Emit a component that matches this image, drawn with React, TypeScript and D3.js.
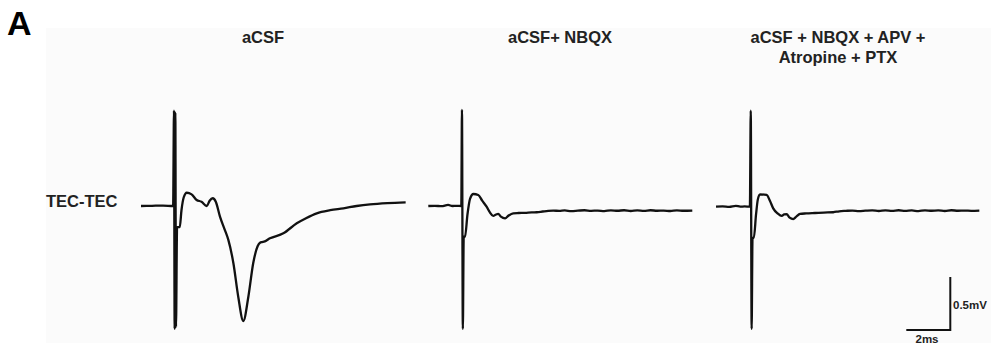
import { useEffect, useRef } from "react";
import * as d3 from "d3";

// time in ms from trace start, voltage in mV relative to baseline
const titles = ["aCSF", "aCSF+ NBQX", "aCSF + NBQX + APV +|Atropine + PTX"];
const rowLabel = "TEC-TEC";

const traceACSF: [number, number][] = [
  [0, 0], [0.5, 0.002], [1.0, 0.004], [1.46, 0],
  [1.5, 0.9], [1.53, -1.16], [1.56, 0.88], [1.59, -1.14], [1.64, -0.2],
  [1.76, -0.2], [1.84, -0.04], [1.94, 0.08], [2.08, 0.125], [2.3, 0.11],
  [2.53, 0.057], [2.75, 0.04], [2.99, 0.0], [3.12, 0.05], [3.26, 0.073],
  [3.4, 0.04], [3.59, -0.1], [3.8, -0.22], [3.97, -0.32], [4.2, -0.54],
  [4.42, -0.856], [4.65, -1.085], [4.88, -0.856], [5.1, -0.54], [5.3, -0.38],
  [5.41, -0.346], [5.5, -0.34], [5.59, -0.337], [5.86, -0.305], [6.47, -0.258],
  [7.08, -0.163], [7.5, -0.115], [7.99, -0.069], [8.6, -0.04], [9.2, -0.022],
  [9.8, 0.0], [10.41, 0.016], [11.2, 0.028], [12.03, 0.035],
];

const traceNBQX: [number, number][] = [
  [0, 0], [0.3, 0.002], [0.6, -0.002], [0.9, 0.01], [1.1, 0.0], [1.3, 0.002], [1.5, 0],
  [1.53, 0.906], [1.57, -1.16], [1.61, -0.29], [1.67, -0.29],
  [1.78, -0.08], [1.9, 0.07], [2.05, 0.113], [2.27, 0.104], [2.45, 0.05],
  [2.65, -0.007], [2.8, -0.06], [2.95, -0.094], [3.08, -0.08], [3.18, -0.075],
  [3.3, -0.1], [3.49, -0.116], [3.65, -0.09], [3.86, -0.069], [4.1, -0.066],
  [4.4, -0.064], [4.7, -0.06], [4.93, -0.059], [5.2, -0.052], [5.45, -0.046],
  [5.68, -0.044], [5.95, -0.046], [6.2, -0.042], [6.5, -0.048], [6.8, -0.044],
  [7.1, -0.04], [7.4, -0.046], [7.7, -0.043], [8.0, -0.048], [8.3, -0.041],
  [8.6, -0.045], [8.9, -0.04], [9.2, -0.047], [9.5, -0.042], [9.8, -0.046],
  [10.1, -0.04], [10.4, -0.045], [10.7, -0.043], [11.0, -0.047], [11.3, -0.041],
  [11.6, -0.045], [12.0, -0.043],
];

const traceAll: [number, number][] = [
  [0, -0.006], [0.3, -0.004], [0.6, -0.008], [0.9, 0.002], [1.1, -0.006], [1.3, -0.004], [1.54, -0.006],
  [1.58, 0.899], [1.62, -1.16], [1.66, -0.3], [1.72, -0.3],
  [1.82, -0.08], [1.9, 0.06], [2.0, 0.11], [2.3, 0.104], [2.45, 0.05],
  [2.6, -0.022], [2.8, -0.07], [2.99, -0.094], [3.1, -0.08], [3.21, -0.078],
  [3.35, -0.11], [3.51, -0.123], [3.65, -0.1], [3.82, -0.075], [4.1, -0.07],
  [4.5, -0.066], [4.9, -0.062], [5.33, -0.059], [5.6, -0.05], [5.9, -0.046],
  [6.2, -0.043], [6.5, -0.048], [6.8, -0.044], [7.1, -0.041], [7.4, -0.047],
  [7.7, -0.042], [8.0, -0.046], [8.3, -0.04], [8.6, -0.046], [8.9, -0.042],
  [9.2, -0.048], [9.5, -0.041], [9.8, -0.045], [10.1, -0.042], [10.4, -0.047],
  [10.7, -0.04], [11.0, -0.045], [11.3, -0.043], [11.6, -0.046], [11.97, -0.044],
];

const traces = [traceACSF, traceNBQX, traceAll];
const panelStart = [141, 428.3, 716];
const titleCenter = [263, 560, 838];

const scaleBarMs = 2;
const scaleBarMv = 0.5;

export default function App() {
  const ref = useRef<SVGSVGElement | null>(null);

  useEffect(() => {
    const svg = d3.select(ref.current);
    svg.selectAll("*").remove();

    const width = 991;
    const height = 346;
    const font = "'Liberation Sans', Arial, sans-serif";
    const pxPerMs = 22;
    const pxPerMv = 106;
    const baseY = 206;

    // faint panel background
    svg.append("rect")
      .attr("x", 46).attr("y", 28)
      .attr("width", width - 46).attr("height", height - 31)
      .attr("fill", "#fbfbfb");

    svg.append("text")
      .attr("x", 7).attr("y", 35)
      .attr("font-family", font).attr("font-weight", "bold")
      .attr("font-size", 34).attr("fill", "#000")
      .text("A");

    svg.append("text")
      .attr("x", 46).attr("y", 207)
      .attr("font-family", font).attr("font-weight", "bold")
      .attr("font-size", 16.5).attr("fill", "#222")
      .text(rowLabel);

    const y = d3.scaleLinear().domain([-1, 1]).range([baseY + pxPerMv, baseY - pxPerMv]);

    traces.forEach((data, i) => {
      const x0 = panelStart[i];
      const x = d3.scaleLinear().domain([0, 12]).range([x0, x0 + 12 * pxPerMs]);
      const line = d3.line<[number, number]>()
        .x(d => x(d[0]))
        .y(d => y(d[1]))
        .curve(d3.curveMonotoneX);

      svg.append("path")
        .datum(data)
        .attr("d", line)
        .attr("fill", "none")
        .attr("stroke", "#111")
        .attr("stroke-width", 2.3)
        .attr("stroke-linejoin", "round");

      const lines = titles[i].split("|");
      lines.forEach((t, j) => {
        svg.append("text")
          .attr("x", titleCenter[i]).attr("y", 43 + j * 20)
          .attr("text-anchor", "middle")
          .attr("font-family", font).attr("font-weight", "bold")
          .attr("font-size", 16.5).attr("fill", "#222")
          .text(t);
      });
    });

    // scale bar
    const sx = 950.3;
    const sy = 330;
    const sbX = d3.scaleLinear().domain([0, scaleBarMs]).range([sx - scaleBarMs * pxPerMs, sx]);
    const sbY = d3.scaleLinear().domain([0, scaleBarMv]).range([sy, sy - scaleBarMv * pxPerMv]);
    svg.append("path")
      .attr("d", `M${sbX(0)},${sbY(0)}H${sbX(scaleBarMs)}V${sbY(scaleBarMv)}`)
      .attr("fill", "none").attr("stroke", "#111").attr("stroke-width", 2);

    svg.append("text")
      .attr("x", 953).attr("y", 309)
      .attr("font-family", font).attr("font-weight", "bold")
      .attr("font-size", 11.5).attr("fill", "#222")
      .text(`${scaleBarMv}mV`);
    svg.append("text")
      .attr("x", 927).attr("y", 343)
      .attr("text-anchor", "middle")
      .attr("font-family", font).attr("font-weight", "bold")
      .attr("font-size", 11.5).attr("fill", "#222")
      .text(`${scaleBarMs}ms`);
  }, []);

  return (
    <svg
      ref={ref}
      width={991}
      height={346}
      style={{ position: "absolute", left: 0, top: 0, background: "#fff" }}
    />
  );
}
